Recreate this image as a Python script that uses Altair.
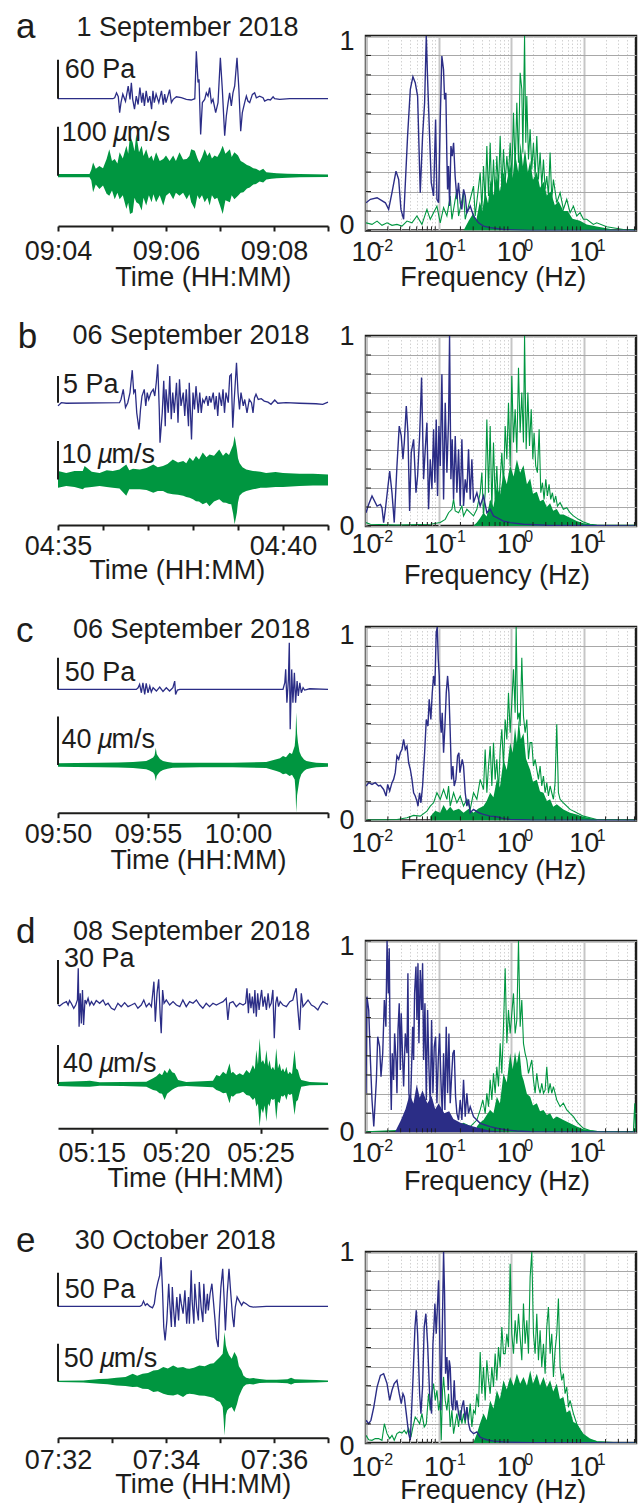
import altair as alt
import pandas as pd

FONT = "Liberation Sans"
NAVY = "#2b2d86"
GREEN = "#009640"
INK = "#1d1d1b"

# ---------------- data ----------------
# infrasound traces: (seconds after panel start, Pa)
A_INFRA = [(0,0),(61,0),(63,1.5),(65,9),(67,3),(68.5,-21.5),(70,-6),(72,7),(75,-4),(78,19.5),(80,-1),(81.5,24.6),(83,-1),(85,-16),(87,4),(89,-9),(91,17),(93,-6),(94.5,9),(96,-11),(98,12),(100,-6),(102,4),(104,-16),(105.5,12),(107,-6),(109,7),(112,-6),(115,12),(117,-9),(118.5,7),(120,-6),(124,14),(126,-6),(128,-1),(131.5,3),(137,1.5),(142.6,-1),(148,-2),(152,0),(153.7,73),(155.6,25),(156.7,30),(158.5,-55),(160.4,-6),(163,-1),(164.8,9),(166.7,4),(168.5,17),(170.4,-6),(172.2,-1),(175.2,-21.5),(177.8,-6),(180.4,63),(182.6,14),(185.2,-57),(187,-27),(189,-6),(190.7,9),(192.6,-11),(194.4,9),(196.3,19.5),(198.9,63),(201,14),(203,-50),(204.8,-21.5),(207.4,-6),(209.3,4),(211,-3.6),(213,-6),(216,6.7),(218.5,9),(220.4,1.5),(224,4),(227.8,1.5),(229.6,-3.6),(233.3,-1),(236,-2),(239,3),(240.7,0),(246.3,-1),(257.4,0),(268.5,0),(300,0)]
B_INFRA = [(0,-0.6),(4.4,0),(11,-0.1),(82,0),(84,0.6),(87,2.5),(90,-0.9),(93,0),(96,1.9),(99,6.1),(101,1.9),(103,2.5),(105,-1.9),(108,-5),(110,-1.25),(112,1.25),(115,2.5),(117,-0.6),(119,1.9),(121,0.6),(124,1.9),(127,2.5),(129,1.25),(131,3.75),(133,7.2),(135,-1.25),(136,-7.5),(139,-1.9),(141,4.1),(143,-4.4),(144,2.5),(147,-1.9),(149,5),(151,-3.1),(153,1.9),(155,-1.9),(158,3.75),(160,-3.75),(162,4.4),(164,-0.6),(167,1.9),(169,-2.5),(171,2.5),(174,-4.4),(175,3.75),(178,-6.9),(180,1.9),(182,-1.25),(184,3.1),(187,-1.9),(189,1.9),(191,-1.9),(193,0.6),(195,0),(198,1.25),(200,-0.6),(202,1.25),(204,0),(207,1.9),(209,-1.25),(211,1.25),(213,-2.5),(215,1.9),(218,-0.6),(220,2.5),(222,-1.9),(224,1.9),(227,0),(229,5),(231,5.3),(233,-4.7),(235,0.6),(238,7.5),(240,1.9),(242,-1.25),(244,1.9),(247,-0.6),(249,0.6),(252,-1.9),(255,0.6),(258,0),(260,-1.9),(262,0.9),(264,1.6),(267,0.6),(271,0.75),(275,0.3),(280,0.1),(284,-0.3),(289,0.5),(293,-0.1),(304,0),(322,-0.1),(344,-0.2),(353,-0.3),(360,0.1)]
C_INFRA = [(0,0),(261,0),(267,2.6),(272,7.9),(278,-5.3),(283,10.5),(289,-7.9),(294,9.5),(300,-5.3),(306,5.3),(311,-4.2),(317,2.6),(328,-2.6),(339,3.7),(350,-3.2),(361,2.6),(372,-2.6),(383,2.6),(389,13.2),(392,-7.9),(398,-1),(406,0),(472,0),(750,0),(756,10.5),(759,31.6),(763,-21),(768,15.8),(771,73.7),(774,-63),(779,31.6),(783,-21),(788,26.3),(792,-21),(797,13.2),(801,-10.5),(806,10.5),(811,-5.3),(817,2.6),(822,-1),(839,1),(900,0)]
D_INFRA = [(0,-0.5),(6,-1.1),(18,0.7),(30,1.8),(36,-0.5),(41,2.5),(47,0.7),(56,-2.7),(63,-0.5),(69,2.9),(72,24.4),(75,-15.1),(79,7.4),(83,-12.9),(87,9.7),(91,-14),(96,2.9),(101,0.7),(107,4.1),(113,-0.5),(119,1.8),(127,-0.5),(136,2.5),(148,0.7),(160,2.9),(169,-0.5),(178,0.7),(190,-2.7),(201,-3.8),(213,0.7),(225,-1.6),(237,1.1),(249,-1.6),(261,-0.5),(273,0.7),(284,-2.7),(296,-0.5),(305,2.9),(314,-1.6),(324,0.7),(332,-1.6),(338,9.7),(341,15.3),(346,-11.7),(352,7.4),(358,16.9),(363,-6.1),(367,-19.6),(372,9.7),(377,0.7),(385,2.9),(397,-0.5),(409,1.8),(421,-0.5),(433,-1.6),(444,2.9),(456,-1.6),(468,1.8),(480,0.7),(492,2.9),(504,-0.5),(515,-2.7),(527,0.7),(539,-1.6),(551,0.7),(563,-0.5),(575,0.7),(587,1.8),(598,4.1),(604,-10.6),(610,0.7),(622,1.8),(634,-1.6),(646,0.7),(658,-0.5),(667,0.7),(672,10.8),(677,-6.1),(681,7.4),(686,-2.7),(691,5.2),(696,-6.1),(700,9.7),(705,-8.4),(710,7.4),(715,-3.8),(719,2.9),(724,9.7),(729,-1.6),(735,5.2),(741,-3.8),(747,7.4),(752,-1.6),(758,0.7),(764,9.7),(769,-23),(774,0.7),(779,5.2),(784,-1.6),(790,1.8),(800,-0.5),(812,-1.6),(824,1.8),(835,2.9),(841,7.4),(847,10.8),(853,-3.8),(859,-17.4),(865,7.4),(871,-1.6),(880,0.7),(889,2.9),(901,-0.5),(912,-1.6),(924,-3.8),(933,-0.5),(942,1.8),(952,0.7),(960,0)]
E_INFRA = [(0,0),(91,0),(93,1.5),(95,7.9),(97,1.5),(99,4),(102,0),(105,-2),(107,4),(109,23.8),(111,36.1),(113,46),(114.5,73.3),(116,28.7),(117.5,-30.7),(119,-50.5),(121,-20.8),(123,33.7),(124,8.9),(126,-30.7),(127,28.7),(128.5,-5.9),(130,-30.7),(132,13.9),(134,-20.8),(135.5,18.8),(137,4),(139,-10.9),(141,23.8),(143,-25.7),(145,13.9),(146,-25.7),(148,53.5),(149,8.9),(151,-25.7),(152,33.7),(154,-1),(156,-20.8),(157,36.1),(159,-1),(161,-23.3),(162,33.7),(164,-10.9),(166,18.8),(167,-5.9),(169,18.8),(171,33.7),(172.6,8.9),(174.5,-20.8),(176,-48),(178,-60.4),(179,-20.8),(181,28.7),(183,55.9),(184.5,13.9),(186,-35.6),(188,18.8),(190,55.9),(192,18.8),(194,-15.8),(195.5,-30.7),(197,-1),(199,13.9),(201,8.9),(204,1.5),(206,6.4),(209,4),(213,0),(217,-1),(231.5,0),(300,0)]

# seismic envelopes: (seconds after panel start, upper um/s, lower um/s)
A_SEIS = [(0,3.4,-3.4),(35,3.4,-3.4),(37,12,-10),(39,27,-34),(42,14,-18),(46,20,-27),(50,15,-20),(54,34,-37),(57,54,-41),(60,30,-30),(63,34,-48),(66,25,-35),(68.5,48,-48),(72,35,-40),(76,61,-68),(78,45,-55),(80,82,-78),(83,68,-75),(85,50,-45),(87,85,-54),(90,48,-58),(93,61,-71),(95,40,-45),(98,54,-61),(101,35,-40),(104,41,-54),(106,30,-38),(109,48,-54),(113,30,-40),(117,34,-61),(120,41,-41),(124,30,-35),(128,41,-48),(131,30,-35),(135,48,-41),(139,33,-35),(143,34,-48),(146,40,-38),(148,54,-54),(152,51,-68),(155,35,-40),(157,27,-48),(160,38,-40),(163,54,-54),(166,40,-45),(168.5,48,-61),(171,35,-40),(174,41,-48),(177,38,-45),(180,48,-61),(183,61,-78),(186,45,-50),(191,54,-54),(193,38,-40),(196,48,-48),(200,41,-41),(203,30,-35),(206,27,-34),(210,22,-26),(213,20,-24),(217,15,-18),(220,14,-17),(224,10,-12),(228,14,-14),(231.5,7,-8),(237,6,-6),(243,5,-5.4),(255,4,-4),(268.5,3.4,-3.4),(300,2.7,-2.7)]
B_SEIS = [(0,2.2,-2.2),(11,1.7,-1.7),(22,2.2,-2),(33,2.2,-2.6),(35.5,3.5,-2.2),(45,2,-2),(55.5,1.7,-1.7),(65,2.4,-2),(73,2.2,-2.2),(82,2.6,-2.4),(91,3.9,-4.3),(95,2.4,-2.6),(100,2.8,-2.6),(109,2.6,-2.6),(118,3,-2.8),(127,3.9,-3.5),(133,3.2,-3),(140,3.5,-3),(146,4,-3.6),(153,5.2,-3.9),(160,4.4,-4),(167,4.8,-4.3),(171,4.2,-4.6),(175.5,5.7,-4.8),(180,4.8,-5.2),(184,6.1,-5.7),(188,5.2,-5.8),(193,7,-6.5),(198,5.8,-6),(202,6.5,-7),(208,6.2,-5.8),(215,7.8,-5.2),(220,6.2,-6),(224,7,-6.1),(228,6.4,-6.4),(231,7.8,-6.5),(233.5,9,-9),(235.5,11.3,-11.7),(238.5,7.8,-8.7),(240,5.5,-6),(242,4.3,-4.3),(246,3.2,-3.5),(251,2.6,-3),(260,2.2,-2.6),(270,2,-2.2),(277.5,1.7,-2.2),(290,1.9,-2),(300,1.7,-2),(322,1.5,-1.7),(340,1.5,-1.6),(360,1.3,-1.6)]
C_SEIS = [(0,1.4,-1.4),(60,1.7,-1.7),(139,1.9,-1.9),(200,2,-2),(250,2.5,-2.5),(294,3.3,-3.6),(305,4.5,-4.5),(317,6.1,-6.3),(322,8,-8),(326,14.3,-13.2),(329,9,-9),(333,7.4,-7.7),(340,5,-5.5),(350,3.3,-4.1),(365,2.5,-3),(383,1.9,-2.2),(472,1.9,-1.9),(583,1.9,-1.9),(694,2.5,-2.5),(728,4.7,-5),(740,5.5,-6),(750,7.4,-7.7),(760,6.5,-7),(772,10.2,-9.1),(780,9,-8),(789,15.7,-11.9),(792,25,-22),(794,43.3,-39.4),(797,26,-25),(800,18.5,-20.1),(805,11,-12),(811,7.4,-7.7),(820,4.5,-5),(828,3.3,-3.6),(845,2.4,-2.4),(861,1.9,-1.9),(900,1.4,-1.4)]
D_SEIS = [(0,2.1,-2.1),(50,2.5,-2.5),(100,3,-2.7),(113,3.4,-2.7),(148,1.7,-1.7),(230,2,-2),(314,2.4,-2.7),(338,5.8,-6.2),(350,8,-7),(361,10.9,-9.6),(370,9,-10),(379,14.4,-16.4),(388,11,-10),(397,16.1,-7.9),(406,12,-6),(415,10.9,-4.4),(427,4.1,-2.7),(456,2.1,-2.1),(551,3.4,-3.4),(563,9.2,-6.2),(575,8,-7.5),(587,12.6,-9.6),(598,10,-9),(610,21.2,-19.8),(616,11,-12),(622,12.6,-13),(634,9,-10),(646,10.9,-9.6),(658,9,-8),(670,14.4,-11.3),(681,11,-12),(693,19.5,-16.4),(700,15,-14),(705,34.9,-23.2),(711,20,-20),(717,46.8,-43.8),(723,22,-25),(729,24.6,-30.1),(735,20,-22),(741,34.9,-38.6),(747,18,-20),(752,24.6,-23.2),(758,15,-15),(764,17.8,-16.4),(770,14,-15),(776,36.6,-36.9),(782,16,-18),(788,21.2,-19.8),(794,13,-12),(800,16.1,-13),(806,12,-11),(812,17.8,-16.4),(818,10,-10),(824,12.6,-11.3),(832,10,-10),(841,34.9,-31.8),(847,16,-18),(853,14.4,-16.4),(860,7,-8),(865,4.1,-2.7),(895,2.1,-1.4),(960,1.4,-1)]
E_SEIS = [(0,0.9,-0.9),(28,1.3,-1.3),(46,3.1,-3.1),(55,3.5,-3.8),(65,4.9,-5.3),(75,6,-6),(83,10.2,-7.5),(88,7.5,-7),(94,10.2,-9.7),(100,11,-10),(106,14.6,-14.2),(111,15,-13),(117,19,-16.4),(122,17,-18),(128,21.2,-18.6),(133,18,-17),(139,19,-20.8),(143,17,-17),(146,16.8,-16.4),(151,18,-17),(157,21.2,-18.6),(163,20,-19),(169,23.5,-20.8),(173,24,-22),(176,27.9,-25.2),(180,32.3,-27.4),(183,36.7,-34.1),(184,50,-50),(185,65.5,-71.7),(186.5,48,-45),(188,41.2,-38.5),(190,35,-36),(193,30.1,-34.1),(196,38.9,-40.7),(199,32.3,-29.6),(201,20,-20),(204,14.6,-11.9),(206,8,-7),(209,4.9,-4),(213,4,-3.5),(217,4.4,-4),(224,3.1,-2.2),(231.5,2.2,-1.8),(243,2.2,-1.8),(255,3,-2.5),(259,4.9,-4),(263,2.7,-2.2),(287,1.8,-1.3),(300,1.3,-0.9)]

# normalised spectra: (Hz, amplitude)
A_BLUE = [(0.0100,.142),(0.0115,.160),(0.0142,.168),(0.0185,.142),(0.0205,.108),(0.0228,.194),(0.0259,.305),(0.0282,.262),(0.0303,.108),(0.0330,.057),(0.0374,.485),(0.0408,.726),(0.0443,.791),(0.0477,.760),(0.0514,.691),(0.0559,.194),(0.0602,.485),(0.0642,.657),(0.0677,1.0),(0.0706,.777),(0.0752,.485),(0.0793,.245),(0.0853,.177),(0.0910,.571),(0.0949,.160),(0.100,.142),(0.1054,.571),(0.111,.897),(0.117,.828),(0.121,.674),(0.126,.708),(0.130,.382),(0.133,.211),(0.137,.331),(0.142,.125),(0.148,.434),(0.154,.382),(0.161,.451),(0.169,.280),(0.179,.160),(0.188,.245),(0.199,.142),(0.209,.108),(0.221,.211),(0.233,.177),(0.245,.091),(0.273,.125),(0.303,.074),(0.355,.039),(0.416,.022),(0.514,.014),(0.784,.005),(1.83,0.0),(52.0,0.0)]
A_GREEN = [(0.0100,.039),(0.0121,.031),(0.0142,.048),(0.0166,.026),(0.0195,.039),(0.0228,.026),(0.0267,.031),(0.0313,.022),(0.0367,.048),(0.0430,.039),(0.0503,.074),(0.0590,.031),(0.0691,.108),(0.0768,.057),(0.0853,.091),(0.0949,.125),(0.1054,.039),(0.1172,.117),(0.1302,.074),(0.1447,.177),(0.1526,.057),(0.1788,.211),(0.1885,.074),(0.2208,.194),(0.2328,.057),(0.3031,.228),(0.3196,.074),(0.3744,.297),(0.3947,.108),(0.4161,.331),(0.4387,.142),(0.4625,.434),(0.4876,.177),(0.514,.451),(0.542,.160),(0.571,.365),(0.602,.177),(0.635,.382),(0.669,.211),(0.706,.485),(0.744,.211),(0.784,.417),(0.827,.245),(0.872,.382),(0.919,.280),(0.969,.451),(1.021,.262),(1.077,.605),(1.135,.314),(1.197,.657),(1.262,.348),(1.330,.811),(1.402,.726),(1.45,.400),(1.53,1.0),(1.59,.451),(1.643,.691),(1.732,.365),(1.826,.520),(1.925,.314),(2.029,.451),(2.139,.280),(2.255,.485),(2.377,.262),(2.506,.400),(2.642,.228),(2.786,.365),(2.937,.211),(3.096,.280),(3.264,.177),(3.441,.400),(3.627,.160),(3.824,.262),(4.250,.142),(4.723,.194),(5.249,.108),(5.834,.160),(6.484,.091),(7.206,.125),(8.009,.074),(8.902,.091),(9.894,.057),(11.0,.057),(13.58,.031),(15.10,.039),(20.73,.019),(35.16,.005),(52.0,.002)]
A_GREEN_BODY = [(0.221,0.0),(0.26,.05),(0.303,.09),(0.33,.05),(0.37,.15),(0.40,.10),(0.44,.2),(0.48,.14),(0.52,.26),(0.57,.18),(0.635,.28),(0.70,.2),(0.78,.3),(0.86,.24),(0.969,.34),(1.05,.27),(1.13,.4),(1.25,.3),(1.35,.45),(1.45,.33),(1.55,.42),(1.7,.3),(1.83,.36),(2.0,.26),(2.26,.3),(2.5,.22),(2.8,.25),(3.10,.18),(3.5,.2),(4.0,.13),(4.5,.15),(5.25,.1),(6.0,.1),(7.0,.06),(8.9,.05),(11.0,.03),(15.1,.02),(25.6,.005),(35.2,0.0)]

B_BLUE = [(0.0100,.070),(0.0109,.114),(0.0121,.158),(0.0142,.105),(0.0158,.114),(0.0166,.096),(0.0175,.018),(0.0185,.088),(0.0212,.289),(0.0228,.175),(0.0245,.018),(0.0267,.316),(0.0287,.526),(0.0306,.474),(0.0323,.351),(0.0337,.439),(0.0359,.632),(0.0378,.491),(0.0399,.079),(0.0420,.386),(0.0453,.456),(0.0488,.175),(0.0514,.263),(0.0548,.474),(0.0583,.781),(0.0622,.246),(0.0655,.404),(0.0691,.544),(0.0728,.088),(0.0768,.351),(0.0810,.193),(0.0853,.509),(0.0890,.228),(0.0928,.561),(0.0968,.158),(0.1011,.526),(0.1054,.316),(0.1111,.798),(0.1172,.140),(0.1235,.649),(0.1302,.281),(0.1373,.561),(0.1417,1.0),(0.1478,.246),(0.1542,.456),(0.1609,.140),(0.1696,.474),(0.1788,.175),(0.1885,.404),(0.1987,.105),(0.2095,.456),(0.2208,.105),(0.2328,.246),(0.2454,.175),(0.2587,.404),(0.2728,.140),(0.2876,.351),(0.3031,.123),(0.3369,.175),(0.3744,.105),(0.4161,.158),(0.4625,.070),(0.514,.088),(0.571,.053),(0.635,.044),(0.784,.026),(0.969,.018),(1.48,.009),(3.10,.004),(52.0,0.0)]
B_GREEN = [(0.0100,.018),(0.0115,.009),(0.0267,.005),(0.0768,.009),(0.1054,.018),(0.1235,.035),(0.1373,.070),(0.1526,.088),(0.1609,.140),(0.1696,.079),(0.1885,.070),(0.2095,.105),(0.2208,.053),(0.2454,.088),(0.2728,.070),(0.3031,.053),(0.3369,.088),(0.3744,.175),(0.3947,.281),(0.4161,.053),(0.4387,.175),(0.4625,.561),(0.4876,.175),(0.514,.526),(0.542,.088),(0.571,.439),(0.602,.140),(0.635,.316),(0.669,.070),(0.706,.246),(0.744,.386),(0.784,.211),(0.827,.526),(0.872,.351),(0.919,.649),(0.969,.316),(1.021,.789),(1.077,.439),(1.135,.614),(1.197,.386),(1.262,.833),(1.330,.491),(1.402,.702),(1.478,.439),(1.53,1.0),(1.61,.404),(1.70,.702),(1.79,.421),(1.89,.614),(1.99,.351),(2.07,.491),(2.18,.316),(2.30,.281),(2.43,.509),(2.56,.175),(2.70,.228),(2.84,.140),(3.00,.246),(3.16,.158),(3.33,.219),(3.51,.140),(3.70,.175),(3.90,.123),(4.11,.158),(4.34,.105),(4.72,.123),(5.25,.088),(5.83,.096),(6.48,.070),(7.21,.053),(8.45,.035),(9.89,.021),(12.2,.009),(15.1,.005),(52.0,.004)]
B_GREEN_BODY = [(0.30,0.0),(0.337,.018),(0.37,.04),(0.416,.07),(0.46,.05),(0.514,.14),(0.57,.1),(0.635,.21),(0.7,.16),(0.784,.28),(0.87,.22),(0.969,.32),(1.08,.26),(1.20,.35),(1.33,.28),(1.48,.32),(1.65,.22),(1.83,.25),(2.0,.17),(2.26,.18),(2.5,.13),(2.79,.14),(3.1,.1),(3.44,.12),(3.8,.08),(4.25,.09),(4.7,.06),(5.25,.06),(6.48,.044),(8.0,.026),(9.9,.014),(15.1,.004)]

C_BLUE = [(0.0100,.178),(0.0109,.195),(0.0121,.186),(0.0134,.195),(0.0149,.178),(0.0158,.181),(0.0175,.160),(0.0189,.126),(0.0199,.186),(0.0212,.152),(0.0228,.195),(0.0240,.212),(0.0253,.247),(0.0267,.333),(0.0282,.316),(0.0297,.350),(0.0313,.367),(0.0330,.419),(0.0348,.367),(0.0367,.384),(0.0387,.298),(0.0408,.264),(0.0430,.212),(0.0453,.143),(0.0477,.126),(0.0503,.100),(0.0520,.074),(0.0548,.143),(0.0571,.091),(0.0602,.178),(0.0642,.350),(0.0677,.522),(0.0714,.488),(0.0743,.626),(0.0783,.522),(0.0818,.660),(0.0853,.747),(0.0890,.695),(0.0928,.971),(0.0959,1.0),(0.0990,.833),(0.1022,.747),(0.1054,.522),(0.1088,.453),(0.1122,.557),(0.1172,.350),(0.1223,.488),(0.1276,.660),(0.1331,.747),(0.1388,.660),(0.1447,.453),(0.1510,.212),(0.1575,.281),(0.1643,.178),(0.1732,.212),(0.1827,.333),(0.1906,.350),(0.1966,.247),(0.2118,.316),(0.2208,.281),(0.2328,.143),(0.2454,.074),(0.2587,.109),(0.2728,.040),(0.3031,.057),(0.3552,.040),(0.4161,.031),(0.514,.022),(0.635,.019),(0.784,.009),(0.969,.005),(1.83,.002),(52.0,0.0)]
C_GREEN = [(0.0100,.002),(0.0267,.005),(0.0367,.014),(0.0453,.026),(0.0559,.022),(0.0691,.048),(0.0768,.074),(0.0853,.091),(0.0949,.143),(0.1054,.109),(0.1172,.160),(0.1302,.109),(0.1373,.178),(0.1447,.074),(0.1609,.143),(0.1788,.091),(0.1987,.126),(0.2208,.074),(0.2454,.109),(0.2728,.057),(0.3031,.143),(0.3369,.109),(0.3744,.212),(0.4161,.160),(0.4387,.367),(0.4625,.143),(0.4876,.281),(0.514,.384),(0.542,.178),(0.571,.402),(0.602,.212),(0.635,.316),(0.669,.143),(0.706,.367),(0.744,.471),(0.784,.281),(0.827,.522),(0.872,.419),(0.919,.660),(0.969,.453),(1.021,.609),(1.077,.781),(1.135,.557),(1.172,1.0),(1.23,.522),(1.29,.557),(1.330,.488),(1.402,.841),(1.478,.540),(1.558,.453),(1.643,.522),(1.732,.316),(1.826,.402),(1.925,.402),(2.029,.281),(2.139,.316),(2.255,.264),(2.377,.212),(2.506,.281),(2.642,.178),(2.786,.229),(2.937,.143),(3.096,.195),(3.264,.126),(3.441,.178),(3.627,.143),(3.824,.109),(4.031,.195),(4.250,.497),(4.480,.143),(4.723,.109),(5.249,.091),(5.834,.074),(6.484,.057),(7.206,.048),(8.009,.040),(8.902,.031),(9.894,.022),(12.22,.014),(15.10,.005),(52.0,.002)]
C_GREEN_BODY = [(0.0768,.02),(0.09,.05),(0.105,.04),(0.117,.08),(0.13,.05),(0.145,.07),(0.16,.05),(0.19,.06),(0.221,.04),(0.26,.06),(0.303,.04),(0.35,.06),(0.416,.074),(0.46,.1),(0.514,.143),(0.57,.12),(0.635,.212),(0.7,.17),(0.784,.316),(0.87,.26),(0.969,.402),(1.05,.35),(1.13,.48),(1.20,.4),(1.27,.52),(1.36,.42),(1.48,.45),(1.6,.32),(1.83,.26),(2.0,.2),(2.26,.21),(2.5,.15),(2.79,.143),(3.1,.1),(3.44,.109),(3.8,.07),(4.25,.083),(5.25,.057),(6.48,.040),(8.0,.031),(9.9,.019),(15.1,.005)]

D_BLUE = [(0.0100,.204),(0.0103,.709),(0.0109,.639),(0.0115,.378),(0.0121,.169),(0.0128,.030),(0.0139,.274),(0.0145,.500),(0.0154,.448),(0.0161,.291),(0.0170,.413),(0.0179,.692),(0.0188,.552),(0.0195,1.0),(0.0203,.726),(0.0209,.962),(0.0216,.378),(0.0223,.117),(0.0230,.413),(0.0240,.274),(0.0248,.517),(0.0259,.378),(0.0267,.204),(0.0276,.535),(0.0287,.674),(0.0297,.326),(0.0306,.622),(0.0320,.378),(0.0330,.239),(0.0348,.517),(0.0367,.413),(0.0378,.831),(0.0390,.204),(0.0408,.117),(0.0425,.343),(0.0439,.552),(0.0453,.378),(0.0467,.726),(0.0488,.866),(0.0503,.587),(0.0520,.883),(0.0536,.465),(0.0559,.848),(0.0583,.639),(0.0602,.883),(0.0622,.378),(0.0649,.674),(0.0677,.169),(0.0706,.639),(0.0736,.343),(0.0768,.134),(0.0801,.587),(0.0836,.204),(0.0872,.448),(0.0910,.500),(0.0949,.152),(0.0990,.378),(0.1032,.517),(0.1077,.274),(0.1123,.099),(0.1172,.413),(0.1222,.117),(0.1275,.552),(0.1331,.204),(0.1388,.517),(0.1447,.152),(0.1510,.291),(0.1575,.413),(0.1643,.430),(0.1714,.186),(0.1788,.099),(0.1885,.064),(0.1987,.169),(0.2095,.064),(0.2208,.274),(0.2328,.082),(0.2454,.204),(0.2587,.099),(0.2728,.134),(0.3031,.082),(0.3369,.064),(0.3744,.047),(0.4387,.038),(0.514,.030),(0.635,.021),(0.872,.012),(1.197,.007),(1.83,.003),(52.0,0.0)]
D_BLUE_BODY = [(0.025,0.0),(0.03,.06),(0.035,.12),(0.04,.2),(0.045,.15),(0.05,.25),(0.055,.18),(0.06,.22),(0.07,.15),(0.08,.19),(0.09,.12),(0.1,.15),(0.12,.1),(0.14,.11),(0.16,.07),(0.2,.05),(0.3,.03),(0.5,.01),(1.0,0.0)]
D_GREEN = [(0.0100,.003),(0.0267,.009),(0.0453,.012),(0.0768,.021),(0.1172,.030),(0.1447,.047),(0.1788,.030),(0.2208,.047),(0.2728,.030),(0.3369,.064),(0.3744,.117),(0.4072,.169),(0.4387,.099),(0.4625,.204),(0.4876,.134),(0.514,.274),(0.542,.169),(0.571,.308),(0.602,.204),(0.635,.343),(0.669,.239),(0.706,.465),(0.744,.308),(0.784,.552),(0.827,.857),(0.872,.465),(0.919,.639),(0.969,.517),(1.021,.622),(1.077,.726),(1.135,.517),(1.197,.587),(1.262,1.0),(1.330,.552),(1.402,.692),(1.478,.465),(1.558,.413),(1.643,.378),(1.732,.308),(1.826,.343),(1.925,.378),(2.029,.274),(2.139,.204),(2.255,.308),(2.377,.239),(2.506,.204),(2.642,.256),(2.786,.204),(2.937,.221),(3.096,.343),(3.264,.204),(3.441,.256),(3.627,.204),(3.824,.239),(4.250,.169),(4.723,.134),(5.249,.152),(5.834,.117),(6.484,.099),(7.206,.082),(8.009,.056),(8.902,.038),(9.894,.021),(12.22,.009),(15.10,.005),(48.3,.002),(50.5,.152),(52.0,0.0)]
D_GREEN_BODY = [(0.337,.03),(0.37,.05),(0.416,.064),(0.46,.09),(0.514,.117),(0.57,.1),(0.635,.186),(0.7,.15),(0.784,.308),(0.87,.26),(0.969,.413),(1.05,.33),(1.13,.42),(1.20,.36),(1.3,.43),(1.4,.3),(1.48,.274),(1.65,.2),(1.83,.186),(2.0,.14),(2.26,.152),(2.5,.11),(2.79,.117),(3.1,.09),(3.44,.099),(3.8,.07),(4.25,.082),(5.25,.064),(6.48,.047),(8.0,.030),(9.9,.016),(15.1,.005)]

E_BLUE = [(0.0100,.119),(0.0109,.101),(0.0117,.119),(0.0128,.188),(0.0142,.293),(0.0158,.354),(0.0175,.363),(0.0195,.311),(0.0212,.223),(0.0228,.276),(0.0245,.311),(0.0267,.328),(0.0287,.258),(0.0306,.206),(0.0323,.258),(0.0337,.241),(0.0359,.154),(0.0387,.049),(0.0408,.014),(0.0443,.328),(0.0473,.607),(0.0493,.695),(0.0514,.572),(0.0548,.258),(0.0571,.154),(0.0602,.293),(0.0634,.607),(0.0668,.677),(0.0706,.520),(0.0752,.258),(0.0801,.154),(0.0836,.520),(0.0863,.607),(0.0890,.730),(0.0928,.572),(0.0968,.730),(0.1000,.852),(0.1032,.607),(0.1077,.171),(0.1123,.572),(0.1172,1.0),(0.1209,.782),(0.1248,.363),(0.1302,.450),(0.1358,.276),(0.1404,.433),(0.1447,.398),(0.1510,.206),(0.1575,.171),(0.1643,.328),(0.1714,.171),(0.1788,.223),(0.1885,.154),(0.1987,.119),(0.2095,.188),(0.2208,.223),(0.2328,.119),(0.2454,.188),(0.2587,.101),(0.2728,.066),(0.3031,.049),(0.3369,.058),(0.3744,.031),(0.4161,.023),(0.4625,.017),(0.571,.010),(0.784,.005),(1.83,.002),(52.0,0.0)]
E_GREEN = [(0.0100,.040),(0.0109,.017),(0.0121,.014),(0.0134,.023),(0.0149,.023),(0.0166,.014),(0.0179,.101),(0.0195,.049),(0.0212,.023),(0.0228,.040),(0.0245,.014),(0.0267,.049),(0.0290,.058),(0.0313,.052),(0.0337,.066),(0.0359,.049),(0.0387,.075),(0.0416,.031),(0.0443,.084),(0.0477,.136),(0.0514,.119),(0.0548,.101),(0.0590,.154),(0.0634,.084),(0.0677,.101),(0.0728,.258),(0.0768,.171),(0.0810,.258),(0.0853,.311),(0.0900,.223),(0.0949,.276),(0.1000,.171),(0.1054,.223),(0.1088,.014),(0.1134,.276),(0.1172,.346),(0.1235,.223),(0.1302,.171),(0.1373,.258),(0.1447,.084),(0.1526,.171),(0.1609,.049),(0.1696,.101),(0.1788,.154),(0.1885,.084),(0.1987,.171),(0.2095,.101),(0.2208,.154),(0.2328,.101),(0.2454,.188),(0.2587,.119),(0.2728,.206),(0.2876,.084),(0.3031,.171),(0.3196,.154),(0.3369,.258),(0.3552,.188),(0.3744,.476),(0.3947,.258),(0.4161,.398),(0.4387,.223),(0.4625,.433),(0.4876,.328),(0.514,.258),(0.542,.398),(0.571,.293),(0.602,.468),(0.635,.328),(0.669,.503),(0.706,.398),(0.744,.607),(0.784,.468),(0.827,.468),(0.872,.572),(0.919,.503),(0.969,.939),(1.021,.572),(1.077,.468),(1.135,.642),(1.197,.520),(1.262,.677),(1.330,.555),(1.402,.433),(1.478,.730),(1.558,.520),(1.643,.642),(1.732,.468),(1.826,.869),(1.925,1.0),(2.029,.572),(2.139,.468),(2.255,.677),(2.377,.433),(2.506,.590),(2.642,.398),(2.786,.520),(2.937,.363),(3.096,.607),(3.264,.712),(3.441,.468),(3.627,.572),(3.824,.346),(4.031,.485),(4.250,.572),(4.480,.756),(4.723,.398),(4.979,.328),(5.249,.363),(5.534,.258),(5.834,.293),(6.150,.188),(6.484,.223),(7.206,.154),(8.009,.101),(8.902,.066),(9.894,.040),(11.0,.023),(12.22,.014),(15.10,.007),(25.61,.003),(52.0,.002)]
E_GREEN_BODY = [(0.30,0.0),(0.337,.049),(0.37,.1),(0.416,.154),(0.46,.12),(0.514,.223),(0.57,.18),(0.635,.276),(0.7,.23),(0.784,.328),(0.87,.28),(0.969,.346),(1.08,.3),(1.20,.363),(1.33,.31),(1.48,.346),(1.65,.3),(1.83,.380),(2.0,.31),(2.26,.363),(2.5,.3),(2.79,.346),(3.1,.29),(3.44,.328),(3.8,.27),(4.25,.311),(4.7,.23),(5.25,.241),(5.8,.16),(6.48,.171),(7.2,.11),(8.0,.101),(9.9,.049),(12.2,.023),(15.1,.010)]

# panel content
ROWS = [
    dict(letter="a", date="1 September 2018", start=(9, 4), span=300,
         ticks=[0, 60, 120, 180, 240, 300], labels=[0, 120, 240], pa=60, um=100,
         infra=A_INFRA, seis=A_SEIS, blue=A_BLUE, green=A_GREEN, body=A_GREEN_BODY, bbody=None),
    dict(letter="b", date="06 September 2018", start=(4, 35), span=360,
         ticks=[0, 60, 120, 180, 240, 300, 360], labels=[0, 300], pa=5, um=10,
         infra=B_INFRA, seis=B_SEIS, blue=B_BLUE, green=B_GREEN, body=B_GREEN_BODY, bbody=None),
    dict(letter="c", date="06 September 2018", start=(9, 50), span=900,
         ticks=[0, 300, 600, 900], labels=[0, 300, 600], pa=50, um=40,
         infra=C_INFRA, seis=C_SEIS, blue=C_BLUE, green=C_GREEN, body=C_GREEN_BODY, bbody=None),
    dict(letter="d", date="08 September 2018", start=(5, 13), span=960,
         ticks=[120, 420, 720], labels=[120, 420, 720], pa=30, um=40,
         infra=D_INFRA, seis=D_SEIS, blue=D_BLUE, green=D_GREEN, body=D_GREEN_BODY, bbody=D_BLUE_BODY),
    dict(letter="e", date="30 October 2018", start=(7, 32), span=300,
         ticks=[0, 60, 120, 180, 240, 300], labels=[0, 120, 240], pa=50, um=50,
         infra=E_INFRA, seis=E_SEIS, blue=E_BLUE, green=E_GREEN, body=E_GREEN_BODY, bbody=None),
]

DECADES = [0.01, 0.1, 1, 10]
EXPONENTS = ["-2", "-1", "0", "1"]
MINOR = [0.02, 0.03, 0.04, 0.05, 0.06, 0.07, 0.08, 0.09, 0.2, 0.3, 0.4, 0.5, 0.6, 0.7, 0.8, 0.9,
         2, 3, 4, 5, 6, 7, 8, 9, 20, 30, 40, 50]
AMP_TICKS = [0, 0.1, 0.2, 0.3, 0.4, 0.5, 0.6, 0.7, 0.8, 0.9, 1.0]

# ---------------- layout (pixels) ----------------
# step = distance from this row's top to the next row's top
LAYOUT = [
    dict(H=194.4, HL=190, ib=62.7, ik=0.65, sb=139.7, sk=0.49, let=(-42, 1.7), date=(18.4, -0.3),
         patxt=(6.7, 41.7), umtxt=(3.7, 104.7), lb=33.4, tY=59.5, tX=144.7,
         rlb=30.5, rtY=55.1, rtX=126.7, y1=5, y0=-5, step=300),
    dict(H=190, HL=189, ib=66.7, ik=5.33, sb=143.4, sk=3.83, let=(-40.3, 11.7), date=(14.4, 8.4),
         patxt=(5, 56.7), umtxt=(3.4, 126.7), lb=29.7, tY=53.9, tX=118.7,
         rlb=26.2, rtY=57.9, rtX=130.4, y1=0, y0=0, step=291),
    dict(H=193.4, HL=185.7, ib=62.4, ik=0.633, sb=138, sk=1.21, let=(-42, 15), date=(15, 10.7),
         patxt=(6.7, 54), umtxt=(3.4, 120.7), lb=29.7, tY=56.2, tX=140,
         rlb=31, rtY=58.5, rtX=126.7, y1=8, y0=0, step=313.4),
    dict(H=191.3, HL=187.3, ib=63.3, ik=1.48, sb=143, sk=0.975, let=(-42, 2.3), date=(15, -1),
         patxt=(6, 26.3), umtxt=(5, 130.6), lb=33, tY=57.8, tX=137,
         rlb=28.8, rtY=57.2, rtX=130.4, y1=5, y0=0, step=310.6),
    dict(H=191, HL=185.7, ib=54.4, ik=0.673, sb=129.4, sk=0.753, let=(-42, 0), date=(16.7, -3.3),
         patxt=(6.7, 45.7), umtxt=(5.7, 115), lb=31.2, tY=55, tX=144.7,
         rlb=32, rtY=55.3, rtX=126.7, y1=0, y0=3, step=None),
]


def text_mark(txt, x, y, size=27, style="normal"):
    return alt.Chart(pd.DataFrame({"t": [txt]})).mark_text(
        align="left", baseline="alphabetic", font=FONT, fontSize=size, fontStyle=style, color=INK
    ).encode(x=alt.value(x), y=alt.value(y), text="t:N")


def left_panel(r, g):
    h, m = r["start"]
    labs = ",".join(str(v) for v in r["labels"])
    expr = (f"indexof([{labs}], datum.value) >= 0 ? "
            f"timeFormat(datetime(2018, 0, 1, {h}, {m}, datum.value), '%H:%M') : ''")
    axis = alt.Axis(values=r["ticks"], labelExpr=expr, grid=False, domain=True, domainColor=INK,
                    domainWidth=2, ticks=True, tickColor=INK, tickWidth=2, tickSize=5,
                    labelFont=FONT, labelFontSize=27, labelColor=INK, labelBaseline="alphabetic",
                    labelPadding=g["lb"] - 5, labelFlush=False, labelOverlap=False,
                    title="Time (HH:MM)", titleFont=FONT, titleFontSize=27, titleFontWeight="normal",
                    titleColor=INK, titleBaseline="alphabetic", titleAlign="center",
                    titleX=g["tX"], titleY=g["tY"])
    x = alt.X("s:Q", scale=alt.Scale(domain=[0, r["span"]], nice=False, zero=False), axis=axis)

    def ysc(base, k):
        return alt.Scale(domain=[0, 100], range=[base, base - 100 * k], nice=False, zero=False)

    yi = ysc(g["ib"], g["ik"])
    ys = ysc(g["sb"], g["sk"])
    seis = alt.Chart(pd.DataFrame(r["seis"], columns=["s", "hi", "lo"])).mark_area(
        color=GREEN).encode(x=x, y=alt.Y("hi:Q", scale=ys, axis=None), y2="lo:Q")
    infra = alt.Chart(pd.DataFrame(r["infra"], columns=["s", "v"])).mark_line(
        color=NAVY, strokeWidth=1.3).encode(x=x, y=alt.Y("v:Q", scale=yi, axis=None))
    bar_i = alt.Chart(pd.DataFrame({"s": [0], "a": [0], "b": [r["pa"]]})).mark_rule(
        color=INK, strokeWidth=2).encode(x=x, y=alt.Y("a:Q", scale=yi, axis=None), y2="b:Q")
    bar_s = alt.Chart(pd.DataFrame({"s": [0], "a": [0], "b": [r["um"]]})).mark_rule(
        color=INK, strokeWidth=2).encode(x=x, y=alt.Y("a:Q", scale=ys, axis=None), y2="b:Q")
    ux, uy = g["umtxt"]
    layers = [
        seis, infra, bar_i, bar_s,
        text_mark(r["letter"], g["let"][0], g["let"][1], size=35),
        text_mark(r["date"], g["date"][0], g["date"][1]),
        text_mark(f"{r['pa']} Pa", g["patxt"][0], g["patxt"][1]),
        text_mark(f"{r['um']}", ux, uy),
        text_mark("\u00b5", ux + 15 * len(str(r["um"])) + 6, uy, style="italic"),
        text_mark("m/s", ux + 15 * len(str(r["um"])) + 20, uy),
    ]
    return alt.layer(*layers).resolve_scale(y="independent").properties(width=270, height=g["HL"])


def right_panel(r, g):
    test = "indexof([0.01, 0.1, 1, 10], datum.value) >= 0"
    xaxis = alt.Axis(values=DECADES + MINOR, labelExpr=f"{test} ? '10' : ''", grid=True,
                     gridColor={"condition": {"test": test, "value": "#c6c6c6"}, "value": "#d2d2d2"},
                     gridDash={"condition": {"test": test, "value": []}, "value": [1.5, 2]},
                     gridWidth={"condition": {"test": test, "value": 2}, "value": 1},
                     ticks=False, domain=False, labelFont=FONT, labelFontSize=27, labelColor=INK,
                     labelBaseline="alphabetic", labelPadding=g["rlb"], labelFlush=False,
                     labelOverlap=False, title="Frequency (Hz)", titleFont=FONT, titleFontSize=27,
                     titleFontWeight="normal", titleColor=INK, titleBaseline="alphabetic",
                     titleAlign="center", titleX=g["rtX"], titleY=g["rtY"])
    yaxis = alt.Axis(values=AMP_TICKS, labelExpr="datum.value == 0 ? '0' : datum.value == 1 ? '1' : ''",
                     grid=True, gridColor="#a8a8a8", gridWidth=1.2, ticks=False, domain=False,
                     labelFont=FONT, labelFontSize=27, labelColor=INK, labelPadding=12,
                     labelOffset={"condition": {"test": "datum.value == 1", "value": g["y1"]}, "value": g["y0"]},
                     title=None)
    x = alt.X("f:Q", scale=alt.Scale(type="log", domain=[0.01, 52.5], nice=False), axis=xaxis)
    y = alt.Y("a:Q", scale=alt.Scale(domain=[0, 1], nice=False, zero=False), axis=yaxis)

    def df(rows):
        return pd.DataFrame(rows, columns=["f", "a"])

    H = g["H"]
    layers = [
        alt.Chart(df(r["body"])).mark_area(color=GREEN, clip=True).encode(x=x, y=y),
        alt.Chart(df(r["green"])).mark_line(color=GREEN, strokeWidth=1.1, clip=True).encode(x=x, y=y),
    ]
    if r["bbody"] is not None:
        layers.append(alt.Chart(df(r["bbody"])).mark_area(color=NAVY, clip=True).encode(x=x, y=y))
    layers.append(alt.Chart(df(r["blue"])).mark_line(color=NAVY, strokeWidth=1.4, clip=True).encode(x=x, y=y))
    # short inward ticks along the left and bottom edges of the frame
    layers.append(alt.Chart(pd.DataFrame({"a": AMP_TICKS})).mark_rule(color=INK, strokeWidth=1).encode(
        y=y, x=alt.value(0), x2=alt.value(5)))
    layers.append(alt.Chart(pd.DataFrame({"f": MINOR})).mark_rule(color=INK, strokeWidth=1).encode(
        x=x, y=alt.value(H), y2=alt.value(H - 4)))
    layers.append(alt.Chart(pd.DataFrame({"f": DECADES, "e": EXPONENTS})).mark_text(
        align="left", baseline="alphabetic", font=FONT, fontSize=16, color=INK, dx=13
    ).encode(x=x, y=alt.value(H + g["rlb"] - 10), text="e:N"))
    return alt.layer(*layers).properties(
        width=270, height=H, view=alt.ViewBackground(stroke=INK, strokeWidth=2.5))


def spacer(h):
    return alt.Chart(pd.DataFrame({"v": [0]})).mark_point(opacity=0).encode(
        x=alt.X("v:Q", axis=None), y=alt.Y("v:Q", axis=None)).properties(width=1, height=h)


items = []
for r, g in zip(ROWS, LAYOUT):
    # a nested concat adds no height under flush bounds, so the spacer carries the whole row step
    items.append(alt.hconcat(left_panel(r, g), right_panel(r, g), spacing=38, bounds="flush"))
    if g["step"]:
        items.append(spacer(g["step"]))

chart = alt.vconcat(*items, spacing=0, bounds="flush",
                    padding={"left": 16, "top": 9, "right": 0, "bottom": 0},
                    background="white").configure_view(strokeWidth=0)

chart.save("out.html", embed_options={"renderer": "svg", "actions": False})
